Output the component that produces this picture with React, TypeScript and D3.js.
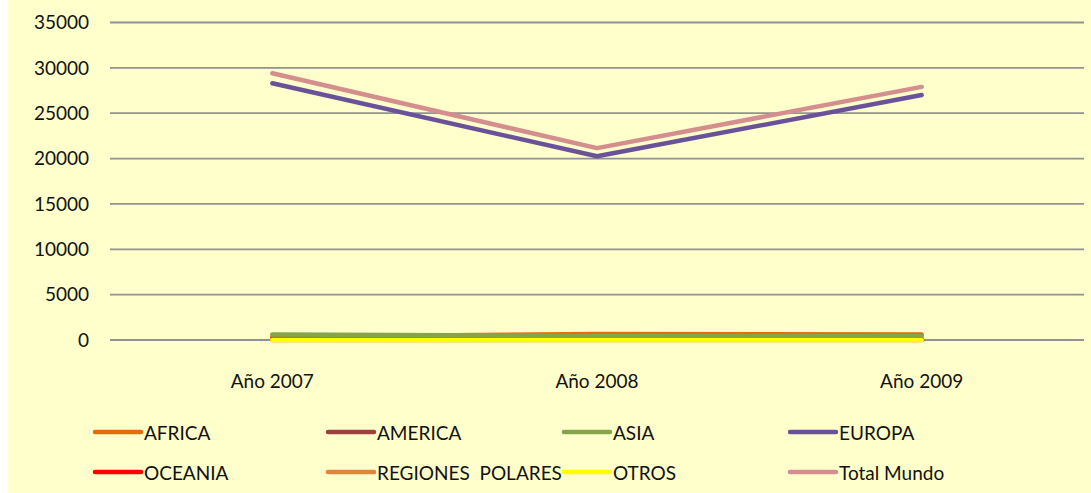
import React from "react";
import * as d3 from "d3";

const categories = ["Año 2007", "Año 2008", "Año 2009"];
const seriesNames = ["AFRICA", "AMERICA", "ASIA", "EUROPA", "OCEANIA", "REGIONES  POLARES", "OTROS", "Total Mundo"];
const seriesColors = ["#E36C09", "#A0403C", "#86A44A", "#6A529A", "#FF0000", "#E0843C", "#FFFF00", "#D48E8E"];
const africa = [350, 650, 600];
const america = [100, 120, 110];
const asia = [600, 450, 450];
const europa = [28300, 20250, 27000];
const oceania = [20, 25, 25];
const polares = [5, 5, 5];
const otros = [10, 10, 10];
const totalMundo = [29400, 21150, 27900];
const yTicks = [0, 5000, 10000, 15000, 20000, 25000, 30000, 35000];

const seriesValues = [africa, america, asia, europa, oceania, polares, otros, totalMundo];

const W = 1083;
const H = 493;
const OX = 8; // svg left offset on page
const plotLeft = 110 - OX;
const plotRight = 1084 - OX;
const yTop = 22.5;
const yBottom = 340;

export default function App() {
  const x = d3.scaleBand().domain(categories).range([plotLeft, plotRight]);
  const y = d3.scaleLinear().domain([0, 35000]).range([yBottom, yTop]);
  const line = d3
    .line<number>()
    .x((_, i) => (x(categories[i]) as number) + x.bandwidth() / 2)
    .y((d) => y(d));

  const font = "Lato, 'Open Sans', sans-serif";
  const legendCols = [95, 328, 564, 790];
  const legendRows = [432, 472];

  return (
    <div style={{ position: "absolute", left: OX, top: 0 }}>
      <svg width={W} height={H} style={{ display: "block" }} fontFamily={font}>
        <rect x={0} y={0} width={W} height={H} fill="#FFFFCC" />
        {yTicks.map((t) => (
          <g key={t}>
            <line x1={plotLeft} x2={plotRight} y1={y(t)} y2={y(t)} stroke="#929292" strokeWidth={1.8} />
            <text x={89 - OX} y={y(t)} dy="0.35em" textAnchor="end" fontSize={19} fill="#111">
              {t}
            </text>
          </g>
        ))}
        {categories.map((c) => (
          <text
            key={c}
            x={(x(c) as number) + x.bandwidth() / 2}
            y={381}
            dy="0.35em"
            textAnchor="middle"
            fontSize={19}
            fill="#111"
          >
            {c}
          </text>
        ))}
        {seriesValues.map((vals, i) => (
          <path
            key={seriesNames[i]}
            d={line(vals) as string}
            fill="none"
            stroke={seriesColors[i]}
            strokeWidth={4.5}
            strokeLinejoin="round"
            strokeLinecap="round"
          />
        ))}
        {seriesNames.map((name, i) => {
          const col = i % 4;
          const row = Math.floor(i / 4);
          const lx = legendCols[col] - OX;
          const ly = legendRows[row];
          return (
            <g key={name}>
              <line
                x1={lx}
                x2={lx + 46}
                y1={ly}
                y2={ly}
                stroke={seriesColors[i]}
                strokeWidth={4.5}
                strokeLinecap="round"
              />
              <text x={lx + 49} y={ly + 1} dy="0.35em" fontSize={19} fill="#111" style={{ whiteSpace: "pre" }}>
                {name}
              </text>
            </g>
          );
        })}
      </svg>
    </div>
  );
}
